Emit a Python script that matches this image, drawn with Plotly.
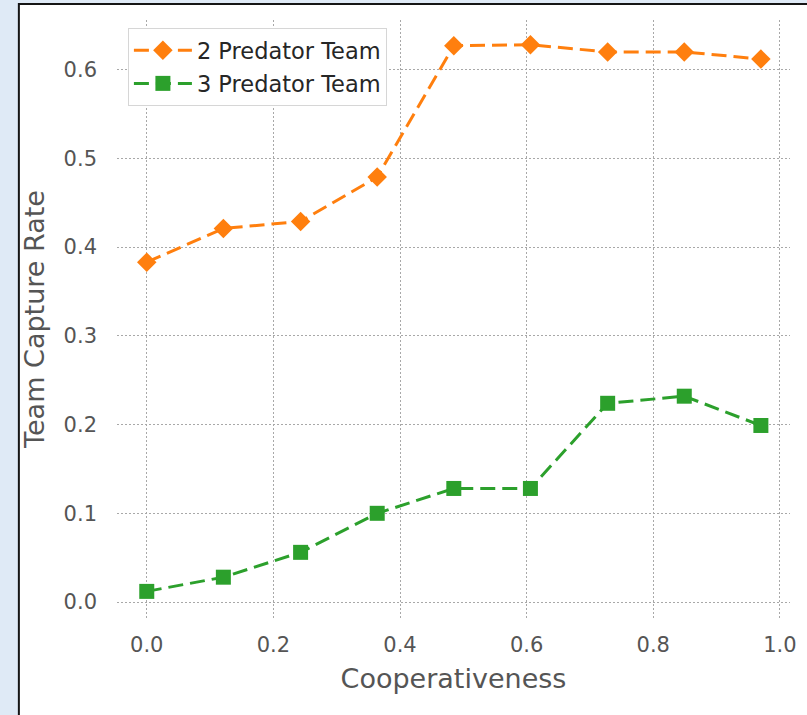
import plotly.graph_objects as go

# Cooperativeness levels tested
cooperativeness = [0.0, 0.121, 0.243, 0.364, 0.485, 0.606, 0.728, 0.849, 0.970]

# Team capture rate per team size
capture_2_pred = [0.383, 0.421, 0.429, 0.479, 0.627, 0.628, 0.620, 0.620, 0.612]
capture_3_pred = [0.012, 0.028, 0.056, 0.100, 0.128, 0.128, 0.224, 0.232, 0.199]

series_names = ["2 Predator Team", "3 Predator Team"]

x_ticks = [0.0, 0.2, 0.4, 0.6, 0.8, 1.0]
y_ticks = [0.0, 0.1, 0.2, 0.3, 0.4, 0.5, 0.6]

W, H = 807, 715
ML, MR, MT, MB = 117, 11, 20, 97
PW, PH = W - ML - MR, H - MT - MB

FONT = "DejaVu Sans"
ORANGE = "#ff7f0e"
GREEN = "#2ca02c"
TEXT_GREY = "#555555"


def px_to_paper_x(px):
    return (px - ML) / PW


def px_to_paper_y(py):
    return (H - MB - py) / PH


fig = go.Figure()

fig.add_trace(go.Scatter(
    x=cooperativeness, y=capture_2_pred, name=series_names[0],
    mode="lines+markers", legendgroup="a",
    line=dict(color=ORANGE, width=3, dash="15px,7px"),
    marker=dict(symbol="diamond", size=15, color=ORANGE),
))
fig.add_trace(go.Scatter(
    x=cooperativeness, y=capture_3_pred, name=series_names[1],
    mode="lines+markers", legendgroup="b",
    line=dict(color=GREEN, width=3, dash="15px,7px"),
    marker=dict(symbol="square", size=15, color=GREEN),
))

# white card with a dark frame over the light-blue page
fig.add_shape(
    type="rect", xref="paper", yref="paper", layer="below",
    x0=px_to_paper_x(18), x1=px_to_paper_x(840),
    y0=px_to_paper_y(760), y1=px_to_paper_y(4),
    fillcolor="white", line=dict(color="#151515", width=2),
)

axis_common = dict(
    showline=False, zeroline=False, showgrid=True,
    gridcolor="#a8a8a8", gridwidth=1, griddash="2px,2px",
    tickfont=dict(family=FONT, size=21, color=TEXT_GREY),
    ticks="", tickformat=".1f",
)

fig.update_xaxes(
    **axis_common,
    range=[-0.047, 1.016], tickvals=x_ticks, ticklabelstandoff=12,
    title=dict(text="Cooperativeness", standoff=13,
               font=dict(family=FONT, size=27, color=TEXT_GREY)),
)
fig.update_yaxes(
    **axis_common,
    range=[-0.018, 0.656], tickvals=y_ticks, ticklabelstandoff=19,
    title=dict(text="Team Capture Rate", standoff=11,
               font=dict(family=FONT, size=27, color=TEXT_GREY)),
)

fig.update_layout(
    width=W, height=H,
    margin=dict(l=ML, r=MR, t=MT, b=MB),
    paper_bgcolor="#dfeaf6",
    plot_bgcolor="rgba(0,0,0,0)",
    font=dict(family=FONT),
    legend=dict(
        x=px_to_paper_x(128), y=px_to_paper_y(28),
        xanchor="left", yanchor="top",
        bgcolor="white", bordercolor="#d6d6d6", borderwidth=1,
        font=dict(family=FONT, size=22.5, color="#262626"),
        tracegroupgap=1, itemwidth=58,
    ),
    showlegend=True,
)

fig.write_html("out.html")
